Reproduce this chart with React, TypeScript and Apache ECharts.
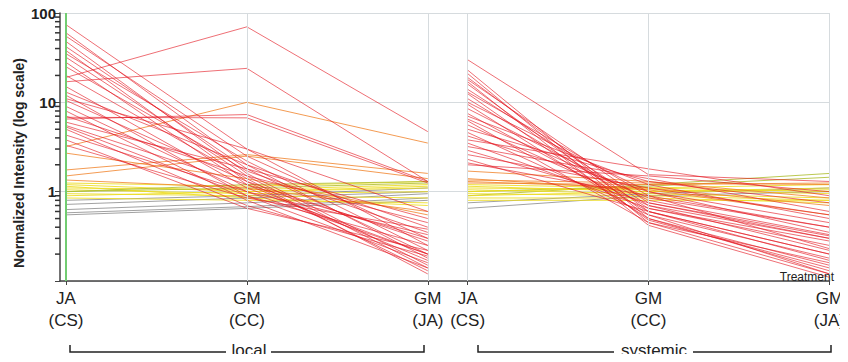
import React, { useEffect, useRef } from "react";
import * as echarts from "echarts";

// x positions of the six treatment columns (two panels with a gap)
const xPositions = [0, 1, 2, 2.22, 3.22, 4.22];
const xLabels = ["JA\n(CS)", "GM\n(CC)", "GM\n(JA)", "JA\n(CS)", "GM\n(CC)", "GM\n(JA)"];
const yTickLabels = ["1", "10", "100"];
const minorTickValues = [0.2, 0.3, 0.4, 0.5, 0.6, 0.7, 0.8, 0.9, 2, 3, 4, 5, 6, 7, 8, 9, 20, 30, 40, 50, 60, 70, 80, 90];

// local panel: JA(CS), GM(CC), GM(JA), colour class
const localJA = [
  0.8, 0.72, 0.63, 0.58, 0.55,
  1.25, 1.2, 1.1, 1.05, 1.0, 0.95, 0.9, 1.15, 0.85, 1.0,
  3.2, 1.75, 1.5, 2.7, 1.35,
  74, 60, 55, 48, 42, 38, 35, 32, 28, 25, 19, 17, 20, 15, 13, 12, 10.5, 9, 8, 7, 6.5, 6.8, 5.5, 5.3, 5, 4.3, 3.8, 3.3, 6, 11,
];
const localCC = [
  0.9, 0.85, 0.75, 0.68, 0.65,
  1.15, 1.0, 1.05, 0.95, 1.1, 0.9, 1.0, 0.85, 0.8, 1.2,
  10, 2.6, 2.5, 1.4, 1.1,
  3.0, 2.0, 2.5, 1.6, 1.8, 1.3, 2.2, 1.5, 1.2, 1.7, 70, 24, 1.4, 1.1, 2.0, 0.9, 1.3, 1.0, 0.8, 1.5, 7.3, 6.7, 1.2, 0.9, 0.7, 1.0, 0.65, 0.85, 1.8, 3.0,
];
const localGMJA = [
  1.1, 1.0, 0.95, 0.85, 0.8,
  1.3, 1.15, 1.2, 1.0, 1.25, 0.85, 1.1, 0.7, 0.75, 1.3,
  3.5, 1.6, 1.4, 0.55, 0.6,
  0.25, 0.18, 0.3, 0.15, 0.2, 0.13, 0.22, 0.14, 0.17, 0.35, 4.7, 1.3, 0.12, 0.2, 0.4, 0.16, 0.28, 0.2, 0.14, 0.45, 1.3, 1.25, 0.3, 0.25, 0.19, 0.33, 0.22, 0.38, 0.5, 0.6,
];
const localClass = [
  "k", "k", "k", "k", "k",
  "y", "y", "y", "y", "g", "y", "y", "y", "y", "g",
  "o", "o", "o", "o", "o",
  "r", "r", "r", "r", "r", "r", "r", "r", "r", "r", "r", "r", "r", "r", "r", "r", "r", "r", "r", "r", "r", "r", "r", "r", "r", "r", "r", "r", "r", "r",
];

// systemic panel
const sysJA = [
  0.65, 0.75,
  0.9, 1.0,
  1.2, 1.15, 1.1, 1.05, 1.0, 0.95, 0.9, 0.85, 0.8,
  1.7, 1.35, 1.3, 1.25, 1.4,
  30, 23, 21, 19, 17, 16, 14, 12.5, 11, 9.5, 8.5, 7.5, 7, 6.2, 5.6, 5, 4.6, 4.2, 3.8, 3.5, 3.2, 2.9, 2.6, 2.3, 2.1, 2.0, 10, 13, 18, 6.5,
];
const sysCC = [
  0.9, 0.95,
  1.2, 1.15,
  1.1, 1.0, 1.05, 0.95, 1.1, 0.9, 1.0, 0.85, 0.8,
  1.3, 1.25, 1.1, 1.2, 1.05,
  1.55, 0.5, 0.45, 0.6, 0.42, 0.55, 0.7, 0.48, 0.65, 0.5, 0.8, 0.6, 1.2, 0.45, 0.7, 1.3, 0.55, 1.0, 1.8, 0.65, 1.4, 0.75, 1.1, 0.6, 0.9, 1.5, 1.0, 0.9, 0.75, 0.85,
];
const sysGMJA = [
  1.0, 1.1,
  1.6, 1.45,
  1.0, 1.1, 0.95, 0.85, 1.2, 0.8, 1.05, 0.75, 0.8,
  0.85, 1.2, 0.7, 1.25, 0.55,
  1.3, 0.15, 0.12, 0.2, 0.11, 0.18, 0.3, 0.14, 0.25, 0.13, 0.33, 0.2, 0.5, 0.16, 0.22, 0.75, 0.12, 0.35, 0.9, 0.28, 0.6, 0.3, 0.55, 0.17, 0.4, 1.0, 0.45, 0.23, 0.32, 0.4,
];
const sysClass = [
  "k", "k",
  "g", "g",
  "y", "y", "y", "y", "y", "y", "y", "y", "y",
  "o", "o", "o", "o", "o",
  "r", "r", "r", "r", "r", "r", "r", "r", "r", "r", "r", "r", "r", "r", "r", "r", "r", "r", "r", "r", "r", "r", "r", "r", "r", "r", "r", "r", "r", "r",
];

const classColor: Record<string, string> = {
  r: "rgba(228,22,32,0.62)",
  o: "rgba(240,130,40,0.8)",
  y: "rgba(236,220,30,0.85)",
  g: "rgba(175,190,50,0.85)",
  k: "rgba(130,130,130,0.75)",
};

export default function App() {
  const ref = useRef<HTMLDivElement>(null);
  useEffect(() => {
    if (!ref.current) return;
    const chart = echarts.init(ref.current, undefined, { renderer: "svg" });
    const xMin = -0.033;
    const series: any[] = [];
    const addPanel = (ja: number[], cc: number[], gm: number[], cls: string[], off: number) => {
      ja.forEach((v, i) => {
        series.push({
          type: "line",
          symbol: "none",
          silent: true,
          lineStyle: { width: 1, color: classColor[cls[i]] },
          data: [
            [xPositions[off], v],
            [xPositions[off + 1], cc[i]],
            [xPositions[off + 2], gm[i]],
          ],
          z: 3,
        });
      });
    };
    series.push({
      type: "line",
      data: [],
      silent: true,
      markLine: {
        silent: true,
        symbol: "none",
        label: { show: false },
        lineStyle: { color: "#d6dbde", type: "solid", width: 1 },
        data: xPositions.slice(1).map((x) => ({ xAxis: x })),
      },
      z: 1,
    });
    series.push({
      type: "line",
      data: [],
      silent: true,
      markLine: {
        silent: true,
        symbol: "none",
        label: { show: false },
        lineStyle: { color: "#72cc72", type: "solid", width: 2 },
        data: [{ xAxis: xPositions[0] }],
      },
      z: 2,
    });
    series.push({
      type: "scatter",
      silent: true,
      symbol: "rect",
      symbolSize: [5, 1.5],
      symbolOffset: [-2.5, 0],
      clip: false,
      itemStyle: { color: "#333", opacity: 1 },
      data: minorTickValues.map((v) => [xMin, v]),
      z: 5,
    });
    addPanel(localJA, localCC, localGMJA, localClass, 0);
    addPanel(sysJA, sysCC, sysGMJA, sysClass, 3);

    const bracketStyle = { stroke: "#222", lineWidth: 1.5, fill: "none" };
    const bracketText = (text: string, x: number) => ({
      type: "text",
      x,
      y: 350,
      style: {
        text,
        fontFamily: "Liberation Sans",
        fontSize: 17,
        fill: "#222",
        align: "center",
        verticalAlign: "middle",
      },
      z: 10,
    });

    chart.setOption({
      animation: false,
      grid: { left: 60, right: 9, top: 13, bottom: 81, containLabel: false },
      xAxis: {
        type: "value",
        min: xMin,
        max: 4.22,
        axisLine: { show: true, onZero: false, lineStyle: { color: "#444", width: 1.5 } },
        axisTick: { show: true, customValues: xPositions, length: 4, lineStyle: { color: "#444" } },
        axisLabel: {
          show: true,
          customValues: xPositions,
          formatter: (v: number) => {
            const i = xPositions.findIndex((p) => Math.abs(p - v) < 0.01);
            return i >= 0 ? xLabels[i] : "";
          },
          fontFamily: "Liberation Sans",
          fontSize: 17,
          lineHeight: 22,
          color: "#222",
          margin: 6,
        },
        splitLine: { show: false },
      },
      yAxis: {
        type: "log",
        logBase: 10,
        min: 0.1,
        max: 100,
        axisLine: { show: true, onZero: false, lineStyle: { color: "#444", width: 1.5 } },
        axisTick: { show: true, length: 5, lineStyle: { color: "#444" } },
        axisLabel: {
          formatter: (v: number) => (yTickLabels.includes(String(v)) ? String(v) : ""),
          fontFamily: "Liberation Sans",
          fontSize: 15,
          fontWeight: "bold",
          color: "#222",
          margin: 4,
        },
        splitLine: { show: true, lineStyle: { color: "#d6dbde", width: 1 } },
      },
      graphic: [
        {
          type: "text",
          x: 19,
          y: 163,
          rotation: Math.PI / 2,
          style: {
            text: "Normalized Intensity (log scale)",
            fontFamily: "Liberation Sans",
            fontSize: 14,
            fontWeight: "bold",
            fill: "#222",
            align: "center",
            verticalAlign: "middle",
          },
        },
        {
          type: "text",
          x: 834,
          y: 277,
          style: {
            text: "Treatment",
            fontFamily: "Liberation Sans",
            fontSize: 12,
            fill: "#222",
            align: "right",
            verticalAlign: "middle",
          },
          z: 10,
        },
        { type: "polyline", shape: { points: [[70, 345], [70, 352], [226, 352]] }, style: bracketStyle },
        { type: "polyline", shape: { points: [[271, 352], [424, 352], [424, 345]] }, style: bracketStyle },
        bracketText("local", 249),
        { type: "polyline", shape: { points: [[478, 345], [478, 352], [614, 352]] }, style: bracketStyle },
        { type: "polyline", shape: { points: [[693, 352], [831, 352], [831, 345]] }, style: bracketStyle },
        bracketText("systemic", 654),
      ],
      series,
    });
    return () => chart.dispose();
  }, []);
  return <div ref={ref} style={{ width: 848, height: 362, margin: -8 }} />;
}
